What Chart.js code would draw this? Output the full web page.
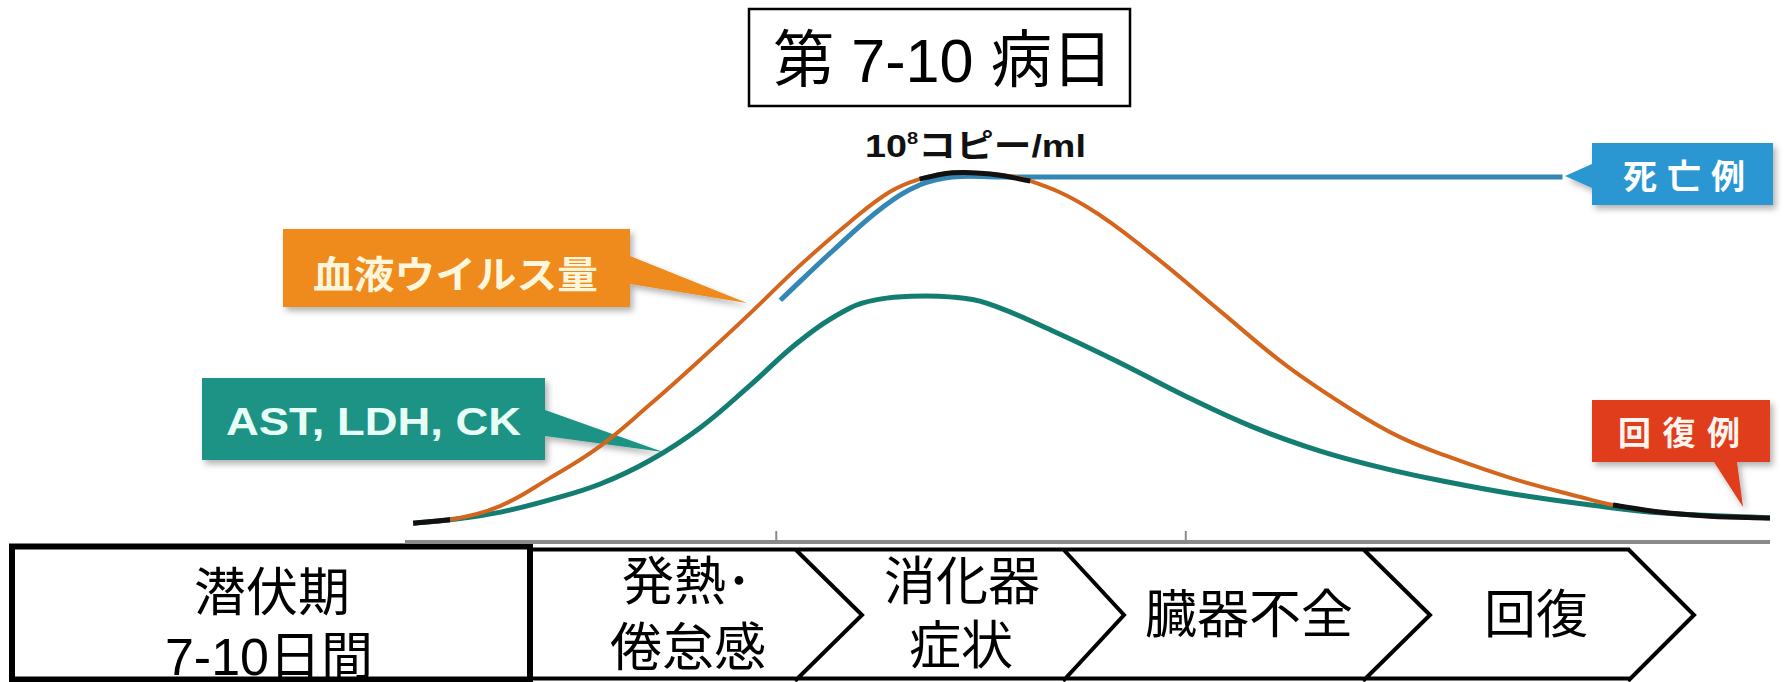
<!DOCTYPE html>
<html lang="ja">
<head>
<meta charset="utf-8">
<title>エボラ出血熱の経過</title>
<script src="https://cdn.jsdelivr.net/npm/chart.js@4.4.1/dist/chart.umd.min.js"></script>
<style>
  html, body { margin: 0; padding: 0; background: #fff; }
  #wrap { position: relative; width: 1785px; height: 682px; overflow: hidden; }
  #under, #chart { position: absolute; left: 0; top: 0; }
  svg text { font-family: "Liberation Sans", "Noto Sans CJK JP", sans-serif; }
</style>
</head>
<body>
<div id="wrap">
  <svg id="under" width="1785" height="682">
    <defs>
      <filter id="shadow" x="-10%" y="-10%" width="130%" height="140%">
        <feDropShadow dx="3" dy="4" stdDeviation="3" flood-color="#000" flood-opacity="0.3"/>
      </filter>
    </defs>

    <!-- 見出し -->
    <rect x="749" y="9" width="381" height="97" fill="#fff" stroke="#000" stroke-width="2.5"/>
    <text x="773" y="82" font-size="62" textLength="340" lengthAdjust="spacingAndGlyphs">第 7-10 病日</text>

    <!-- ピーク値 -->
    <g transform="translate(865,157) scale(1.18,1)">
      <text x="0" y="0" font-size="32" font-weight="bold" fill="#111"><tspan>10</tspan><tspan font-size="17" dy="-13">8</tspan><tspan dy="13">コピー/ml</tspan></text>
    </g>

    <!-- 吹き出し -->
    <g filter="url(#shadow)">
      <path fill="#ef8a1f" d="M283,229 H630 V256 L747,303 L630,284 V307 H283 Z"/>
      <path fill="#1f9385" d="M202,378 H545 V410 L663,452 L545,436 V460 H202 Z"/>
      <path fill="#2b97d3" d="M1592,143 H1773 V205 H1592 V188 L1565,176 L1592,164 Z"/>
      <path fill="#e03d1c" d="M1592,400 H1770 V462 H1737 L1743,507 L1714,462 H1592 Z"/>
    </g>
    <text x="313" y="288" font-size="38" font-weight="bold" fill="#fff6dc" textLength="285" lengthAdjust="spacingAndGlyphs">血液ウイルス量</text>
    <text x="226" y="435" font-size="39" font-weight="bold" fill="#e8fff8" textLength="295" lengthAdjust="spacingAndGlyphs">AST, LDH, CK</text>
    <text x="1623" y="189" font-size="34" font-weight="bold" fill="#fff" textLength="122" lengthAdjust="spacing">死亡例</text>
    <text x="1618" y="445" font-size="33" font-weight="bold" fill="#fff4ee" textLength="122" lengthAdjust="spacing">回復例</text>

    <!-- 病期の流れ -->
    <g fill="none" stroke="#000">
      <path stroke-width="4" d="M530,549.5 H1630 M530,678.5 H1630
        M795,549 L862,615 L795,681
        M1063,549 L1124,615 L1063,681
        M1363,549 L1430,615 L1363,681
        M1628,549 L1694,615 L1628,681"/>
      <rect x="12" y="546.5" width="518" height="133" stroke-width="6"/>
    </g>
    <g font-size="52" fill="#000" text-anchor="middle">
      <text x="272" y="611">潜伏期</text>
      <text x="269" y="675">7-10日間</text>
      <text x="622" y="600" text-anchor="start">発熱･</text>
      <text x="688" y="666">倦怠感</text>
      <text x="962" y="600">消化器</text>
      <text x="961" y="664">症状</text>
      <text x="1249" y="633">臓器不全</text>
      <text x="1536" y="633">回復</text>
    </g>
  </svg>
  <canvas id="chart" width="1785" height="682"></canvas>
</div>
<script>
// 横軸は経過 (0-100)、縦軸は相対レベル (0-120)
const virusX = [0.6, 3.3, 7.0, 10.6, 14.3, 17.9, 21.6, 25.3, 28.9, 32.6, 35.5, 37.7, 40.1, 42.9, 45.8, 50.0, 54.8, 59.7, 64.6, 69.5, 72.9, 76.3, 81.2, 86.1, 88.5, 91.9, 95.6, 100];
const virusY = [5.1, 6.0, 9.8, 17.3, 26.0, 37.1, 49.3, 62.0, 74.8, 86.7, 94.8, 98.3, 100, 99.7, 97.8, 90.7, 77.7, 62.6, 47.7, 35.5, 28.4, 23.3, 17.1, 12.2, 10.0, 8.1, 7.0, 6.5];

const enzymeX = [0.6, 3.3, 7.0, 10.6, 14.3, 17.9, 21.6, 25.3, 28.9, 32.6, 34.8, 37.1, 39.9, 42.6, 47.5, 52.4, 57.3, 62.1, 67.0, 71.9, 76.3, 81.2, 87.3, 91.9, 100];
const enzymeY = [5.1, 6.0, 8.1, 11.4, 15.7, 22.0, 30.9, 42.5, 54.4, 63.4, 65.8, 66.6, 66.4, 64.7, 57.1, 48.5, 39.3, 31.2, 24.7, 19.8, 16.3, 13.0, 9.8, 7.9, 6.5];

// 死亡例: ピークのまま横ばい
const fatalX = [27.5, 31.4, 35.0, 37.7, 40.1, 43.6, 84.8];
const fatalY = [65.5, 79.1, 90.7, 96.7, 98.9, 98.9, 98.9];

// 線が重なって黒く見える区間
const overlapRanges = [[0, 4], [37, 46], [88, 100]];

// 横軸の目盛り
const axisTicks = [27.2, 57.2];

const toPoints = (xs, ys) => xs.map((x, i) => ({ x: x, y: ys[i] }));

function buildOverlap() {
    const pts = [];
    overlapRanges.forEach((r, k) => {
        if (k > 0) pts.push({ x: (overlapRanges[k - 1][1] + r[0]) / 2, y: null });
        virusX.forEach((x, i) => {
            if (x >= r[0] && x <= r[1]) pts.push({ x: x, y: virusY[i] });
        });
    });
    return pts;
}

// 横軸の線と目盛り
const axisLine = {
    id: 'axisLine',
    beforeDatasetsDraw(chart) {
        const { ctx, chartArea, scales } = chart;
        const y0 = scales.y.getPixelForValue(0);
        ctx.save();
        ctx.strokeStyle = '#8a8a8a';
        ctx.lineWidth = 4;
        ctx.beginPath();
        ctx.moveTo(chartArea.left, y0);
        ctx.lineTo(chartArea.right, y0);
        ctx.stroke();
        ctx.lineWidth = 2;
        axisTicks.forEach(t => {
            const x = scales.x.getPixelForValue(t);
            ctx.beginPath();
            ctx.moveTo(x, y0);
            ctx.lineTo(x, y0 - 11);
            ctx.stroke();
        });
        ctx.restore();
    }
};

const ctx = document.getElementById('chart').getContext('2d');
new Chart(ctx, {
    type: 'line',
    data: {
        datasets: [
            { label: '重なり', data: buildOverlap(), borderColor: '#111', borderWidth: 5, order: 0 },
            { label: '血液ウイルス量', data: toPoints(virusX, virusY), borderColor: '#d4651c', borderWidth: 4, order: 1 },
            { label: '死亡例', data: toPoints(fatalX, fatalY), borderColor: '#3486b5', borderWidth: 5, order: 2 },
            { label: 'AST, LDH, CK', data: toPoints(enzymeX, enzymeY), borderColor: '#127d70', borderWidth: 5, order: 3 }
        ]
    },
    options: {
        responsive: false,
        animation: false,
        devicePixelRatio: 1,
        layout: { padding: { left: 405, right: 15, top: 99, bottom: 140 } },
        elements: {
            point: { radius: 0 },
            line: { tension: 0.4, borderCapStyle: 'butt', fill: false }
        },
        scales: {
            x: { type: 'linear', min: 0, max: 100, display: false },
            y: { min: 0, max: 120, display: false }
        },
        plugins: {
            legend: { display: false },
            tooltip: { enabled: false }
        }
    },
    plugins: [axisLine]
});
</script>
</body>
</html>
